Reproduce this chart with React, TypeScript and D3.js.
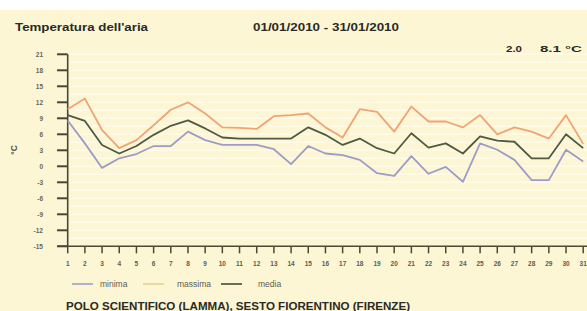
import React from "react";
import * as d3 from "d3";

const days = d3.range(1, 32);
const massima = [10.7, 12.7, 6.8, 3.4, 4.9, 7.7, 10.6, 12.0, 9.9, 7.3, 7.2, 7.0, 9.4, 9.6, 9.9, 7.3, 5.4, 10.7, 10.2, 6.5, 11.2, 8.4, 8.4, 7.3, 9.6, 6.0, 7.3, 6.5, 5.2, 9.6, 4.2];
const media = [9.6, 8.5, 4.0, 2.4, 3.8, 5.9, 7.6, 8.6, 7.1, 5.4, 5.2, 5.2, 5.2, 5.2, 7.3, 5.9, 4.0, 5.2, 3.4, 2.4, 6.2, 3.5, 4.3, 2.4, 5.6, 4.8, 4.6, 1.5, 1.5, 6.0, 3.4];
const minima = [8.6, 4.3, -0.3, 1.5, 2.3, 3.8, 3.8, 6.5, 4.9, 4.0, 4.0, 4.0, 3.2, 0.4, 3.8, 2.4, 2.1, 1.2, -1.3, -1.8, 1.9, -1.4, -0.1, -2.9, 4.3, 3.1, 1.2, -2.6, -2.6, 3.1, 0.9];
const yTicks = [21, 18, 15, 12, 9, 6, 3, 0, -3, -6, -9, -12, -15];
const seriesNames = ["minima", "massima", "media"];
const colors = { minima: "#9d9cc6", massima: "#f0a474", media: "#4f5a42" };
const legendColors = { minima: "#a9a8c8", massima: "#e8d596", media: "#55604a" };

export default function App() {
  const x = d3.scaleLinear().domain([1, 31]).range([67.7, 583.2]);
  const y = d3.scaleLinear().domain([-15, 21]).range([246.3, 54.3]);
  const line = d3
    .line<number>()
    .x((_, i) => x(days[i]))
    .y((v) => y(v));
  const data = { minima, massima, media };
  const axisColor = "#4b4738";
  const grid = d3.range(-15, 21.01, 1.5);
  const legendLineX = [72, 143, 221];
  const legendTextX = [100, 177, 258];
  const textFont = "'Liberation Sans', Arial, sans-serif";
  const dark = "#2b2a24";

  return (
    <div style={{ position: "absolute", left: 0, top: 0 }}>
      <svg width={587} height={311} style={{ display: "block" }} fontFamily={textFont}>
        <rect x={0} y={0} width={587} height={311} fill="#ffffff" />
        <rect x={0} y={10} width={587} height={301} fill="#fcf6d5" />
        {grid.map((g) => (
          <line key={g} x1={68} x2={587} y1={y(g)} y2={y(g)} stroke="#fffbe8" strokeWidth={1.5} />
        ))}
        <text x={15} y={31} fontSize={10} fontWeight="bold" fill={dark} textLength={133} lengthAdjust="spacingAndGlyphs">
          Temperatura dell'aria
        </text>
        <text x={253} y={31} fontSize={10} fontWeight="bold" fill={dark} textLength={146} lengthAdjust="spacingAndGlyphs">
          01/01/2010 - 31/01/2010
        </text>
        <text x={506} y={52} fontSize={9.5} fontWeight="bold" fill={dark} textLength={16} lengthAdjust="spacingAndGlyphs">
          2.0
        </text>
        <text x={540} y={52} fontSize={9.5} fontWeight="bold" fill={dark} textLength={42} lengthAdjust="spacingAndGlyphs">
          8.1 °C
        </text>
        {/* axes */}
        <line x1={67.7} x2={67.7} y1={y(21)} y2={y(-15)} stroke={axisColor} strokeWidth={1.6} />
        <line x1={57} x2={587} y1={y(-15)} y2={y(-15)} stroke={axisColor} strokeWidth={1.6} />
        {yTicks.map((t) => (
          <g key={t}>
            <line x1={57} x2={67.7} y1={y(t)} y2={y(t)} stroke={axisColor} strokeWidth={2} />
            <text x={43} y={y(t) + 2.5} fontSize={6.5} fontWeight="bold" fill="#6a665a" textAnchor="end">
              {t}
            </text>
          </g>
        ))}
        {days.map((d) => (
          <g key={d}>
            <line x1={x(d)} x2={x(d)} y1={y(-15)} y2={y(-15) + 7} stroke={axisColor} strokeWidth={1.5} />
            <text x={x(d)} y={266} fontSize={6.5} fontWeight="bold" fill="#5f5b50" textAnchor="middle">
              {d}
            </text>
          </g>
        ))}
        <text
          transform={`translate(17,150) rotate(-90)`}
          fontSize={8.5}
          fontWeight="bold"
          fill="#55524a"
          textAnchor="middle"
        >
          °C
        </text>
        {seriesNames.map((s) => (
          <path
            key={s}
            d={line(data[s as keyof typeof data]) || ""}
            fill="none"
            stroke={colors[s as keyof typeof colors]}
            strokeWidth={1.8}
            strokeLinejoin="round"
          />
        ))}
        {seriesNames.map((s, i) => (
          <g key={s}>
            <line
              x1={legendLineX[i]}
              x2={legendLineX[i] + 21}
              y1={284}
              y2={284}
              stroke={legendColors[s as keyof typeof legendColors]}
              strokeWidth={1.8}
            />
            <text x={legendTextX[i]} y={287} fontSize={8.5} fill="#625e52">
              {s}
            </text>
          </g>
        ))}
        <text x={66} y={310} fontSize={10} fontWeight="bold" fill={dark} textLength={344} lengthAdjust="spacingAndGlyphs">
          POLO SCIENTIFICO (LAMMA), SESTO FIORENTINO (FIRENZE)
        </text>
      </svg>
    </div>
  );
}
